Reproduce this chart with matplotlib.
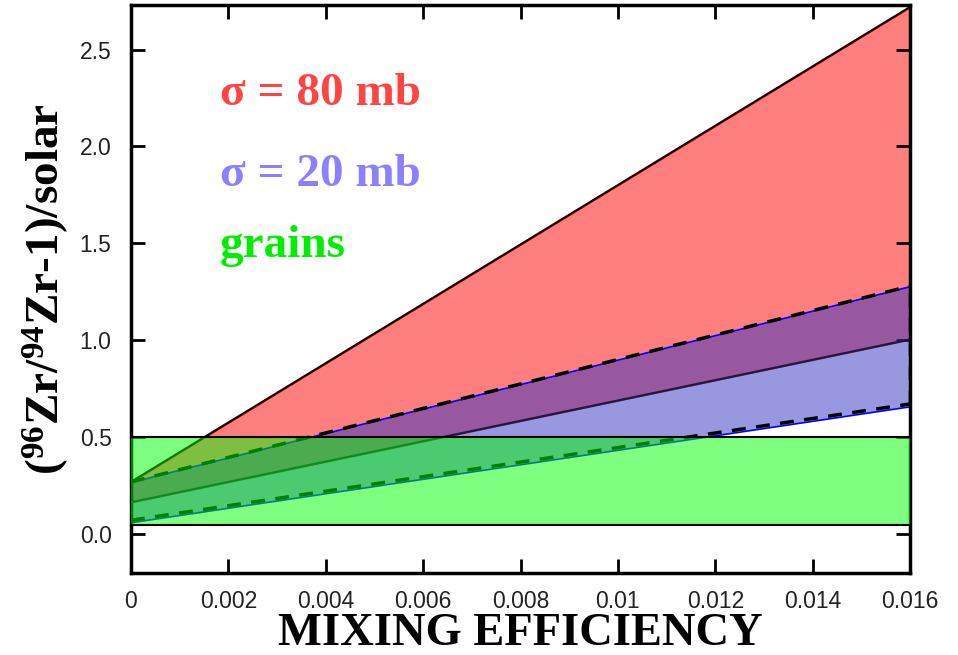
import numpy as np
import matplotlib
matplotlib.use('Agg')
from matplotlib import pyplot as plt

# mixing efficiency range
x_ends = [0.0, 0.016]

# sigma = 80 mb band (upper / lower edge)
s80_upper = [0.27, 2.72]
s80_lower = [0.165, 1.005]

# sigma = 20 mb band
s20_upper = [0.27, 1.28]
s20_lower = [0.062, 0.66]
s20_lower_dash = [0.072, 0.672]

# grain measurements (lower / upper)
grains = [0.05, 0.5]

xticks = [0, 0.002, 0.004, 0.006, 0.008, 0.01, 0.012, 0.014, 0.016]
xtick_labels = ['0', '0.002', '0.004', '0.006', '0.008', '0.01', '0.012', '0.014', '0.016']
yticks = [0.0, 0.5, 1.0, 1.5, 2.0, 2.5]
ytick_labels = ['0.0', '0.5', '1.0', '1.5', '2.0', '2.5']

plt.rcParams['mathtext.fontset'] = 'custom'
plt.rcParams['mathtext.rm'] = 'Liberation Serif:bold'
plt.rcParams['mathtext.it'] = 'Liberation Serif:bold'
plt.rcParams['mathtext.bf'] = 'Liberation Serif:bold'

fig = plt.figure(figsize=(9.58, 6.55), dpi=100)
ax = fig.add_axes([0.1367, 0.1252, 0.8133, 0.8672])

# red band
ax.fill_between(x_ends, s80_lower, s80_upper, facecolor=(1, 0, 0, 0.5),
                edgecolor='red', linewidth=1.2, zorder=1)
# blue band
ax.fill_between(x_ends, s20_lower, s20_upper, facecolor=(0.2, 0.2, 0.76, 0.5),
                edgecolor='blue', linewidth=1.2, zorder=2)

# outlines
ax.plot(x_ends, s80_upper, color='black', lw=1.5, zorder=3)
ax.plot(x_ends, s80_lower, color='#1a1a40', lw=1.5, zorder=3)
ax.plot(x_ends, s20_upper, color='black', lw=2.5, ls=(0, (4, 3)), zorder=4)
ax.plot(x_ends, s20_lower_dash, color='black', lw=2.5, ls=(0, (4, 3)), zorder=4)
ax.plot([x_ends[1], x_ends[1]], [s20_lower_dash[1], s20_upper[1]], color='black',
        lw=2.5, ls=(0, (4, 3)), zorder=4)

# grains band on top
ax.fill_between(x_ends, [grains[0]] * 2, [grains[1]] * 2, facecolor=(0, 1, 0, 0.5),
                edgecolor='none', zorder=5)
ax.plot(x_ends, [grains[1]] * 2, color='black', lw=1.5, zorder=6)
ax.plot(x_ends, [grains[0]] * 2, color='black', lw=1.5, zorder=6)

ax.set_xlim(0, 0.016)
ax.set_ylim(-0.2, 2.73)

ax.set_xticks(xticks)
ax.set_xticklabels(xtick_labels)
ax.set_yticks(yticks)
ax.set_yticklabels(ytick_labels)
ax.tick_params(direction='in', length=10, width=2, top=True, right=True,
               labelsize=16.5, labelcolor='#222222')
ax.tick_params(axis='x', pad=12)
ax.tick_params(axis='y', pad=14)
for lab in ax.get_xticklabels() + ax.get_yticklabels():
    lab.set_family('Liberation Sans')
for sp in ax.spines.values():
    sp.set_linewidth(2.5)

ax.set_xlabel('MIXING EFFICIENCY', fontsize=33.5, fontweight='bold',
              family='Liberation Serif', labelpad=0)
ax.set_ylabel(r'($^{96}$Zr/$^{94}$Zr-1)/solar', fontsize=34, fontweight='bold',
              family='Liberation Serif', labelpad=6)

txt = dict(fontsize=34, fontweight='bold', family='Liberation Serif',
           transform=ax.transAxes, va='baseline', ha='left')
ax.text(0.114, 0.824, 'σ = 80 mb', color='#ff4444', **txt)
ax.text(0.114, 0.681, 'σ = 20 mb', color='#8c80ff', **txt)
ax.text(0.114, 0.556, 'grains', color='#00ee00', **txt)

fig.savefig('out.png', dpi=100)
